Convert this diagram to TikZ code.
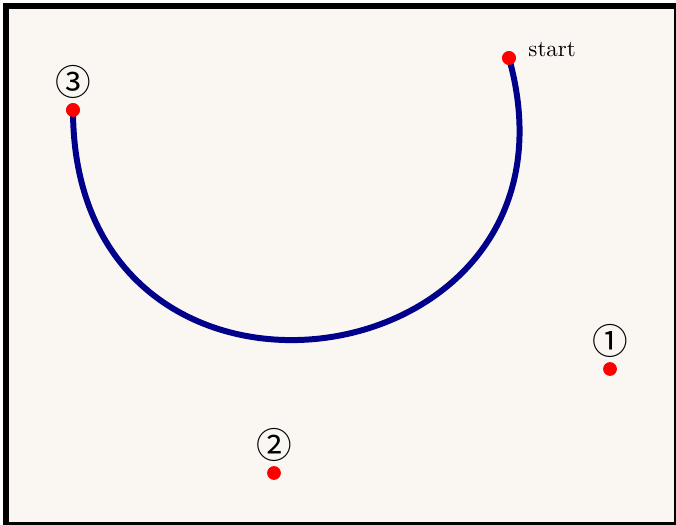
\documentclass[tikz,border=0pt]{standalone}
\usepackage{fontspec}
\newfontfamily\circfont{Noto Sans CJK SC}
\definecolor{bgbeige}{RGB}{250,247,242}
\definecolor{curveblue}{RGB}{0,0,139}
\begin{document}
\begin{tikzpicture}[x=0.435pt,y=-0.435pt,
  dot/.style={circle,fill=red,inner sep=0pt,minimum size=6pt},
  numlabel/.style={font=\circfont\fontsize{15.5}{17}\selectfont,inner sep=0pt},
  curve/.style={line width=2.6pt,draw=curveblue}]
\useasboundingbox (0,0) rectangle (676,525);
\fill[white] (0,0) rectangle (676,525);
\fill[black] (3,3) rectangle (676,525);
\fill[bgbeige] (8.5,9) rectangle (673.5,521.5);
\coordinate (c1) at (600,385);
\coordinate (c2) at (73,460);
\node[dot] (start) at (509,58) {};
\node[dot] (p3) at (73,110) {};
\node[dot] (p1) at (610,369) {};
\node[dot] (p2) at (274,473) {};
\draw[curve] (start.center) .. controls (c1) and (c2) .. (p3.center);
\node[dot] at (start.center) {};
\node[dot] at (p3.center) {};
\node[anchor=west,inner sep=0pt] (lstart) at (528,50) {start};
\node[numlabel] (l3) at (73,82) {③};
\node[numlabel] (l1) at (610,341) {①};
\node[numlabel] (l2) at (274,445) {②};
\end{tikzpicture}
\end{document}
